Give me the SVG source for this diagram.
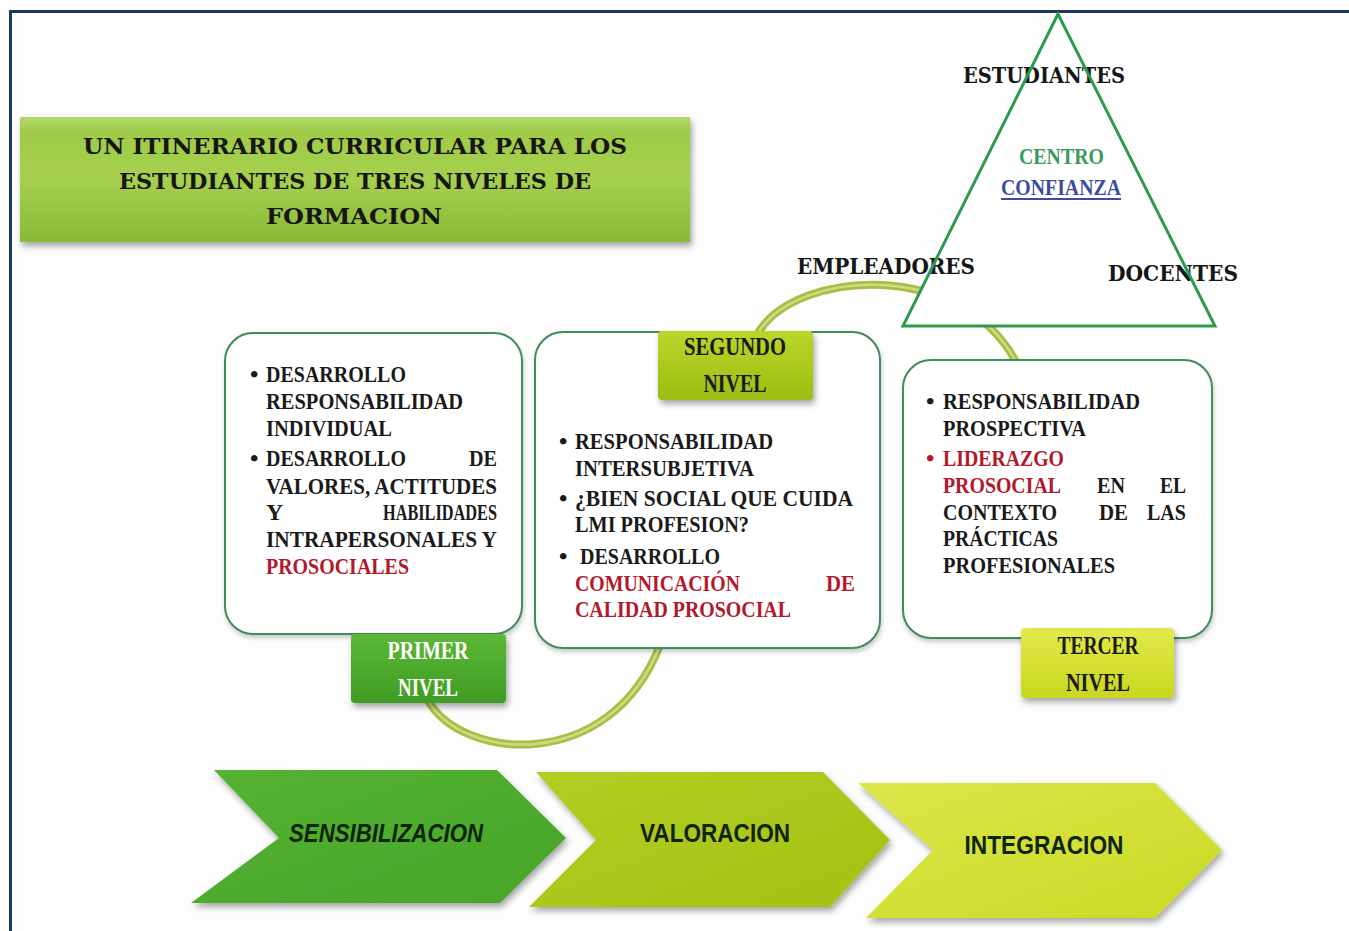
<svg xmlns="http://www.w3.org/2000/svg" width="1349" height="931" viewBox="0 0 1349 931">
<defs>
<style>
.t{font-family:"Liberation Serif","DejaVu Serif",serif;font-weight:bold;font-size:24px;fill:#1a1a1a}
.r{fill:#b3192c}
.lbl{font-family:"Liberation Serif","DejaVu Serif",serif;font-weight:bold;font-size:25px;fill:#1a1a1a;text-anchor:middle}
.slab{font-family:"DejaVu Serif","Liberation Serif",serif;font-weight:bold;font-size:23px;fill:#161616}
.chv{font-family:"Liberation Sans","Open Sans",sans-serif;font-weight:bold;font-size:26px;fill:#10240a;text-anchor:middle}
.box{fill:#ffffff;stroke:#3f8c5c;stroke-width:2}
</style>
<filter id="sh" x="-10%" y="-10%" width="130%" height="140%">
<feDropShadow dx="2" dy="4" stdDeviation="3" flood-color="#000" flood-opacity="0.35"/>
</filter>
<filter id="shl" x="-10%" y="-10%" width="130%" height="140%">
<feDropShadow dx="1" dy="3" stdDeviation="2" flood-color="#000" flood-opacity="0.2"/>
</filter>
<linearGradient id="gTitle" x1="0" y1="0" x2="0" y2="1">
<stop offset="0" stop-color="#b4d86a"/><stop offset="0.12" stop-color="#9fcb47"/><stop offset="0.5" stop-color="#a6d04f"/><stop offset="1" stop-color="#8ab838"/>
</linearGradient>
<linearGradient id="g1" x1="0" y1="0" x2="0" y2="1">
<stop offset="0" stop-color="#5cb836"/><stop offset="1" stop-color="#3f9c24"/>
</linearGradient>
<linearGradient id="g2" x1="0" y1="0" x2="0" y2="1">
<stop offset="0" stop-color="#bad62c"/><stop offset="1" stop-color="#9cbd12"/>
</linearGradient>
<linearGradient id="g3" x1="0" y1="0" x2="0" y2="1">
<stop offset="0" stop-color="#e2ea4a"/><stop offset="1" stop-color="#c9d71e"/>
</linearGradient>
<linearGradient id="c1" x1="0" y1="0" x2="1" y2="1">
<stop offset="0" stop-color="#56b232"/><stop offset="1" stop-color="#46a52a"/>
</linearGradient>
<linearGradient id="c2" x1="0" y1="0" x2="1" y2="1">
<stop offset="0" stop-color="#b3cd22"/><stop offset="1" stop-color="#a4c214"/>
</linearGradient>
<linearGradient id="c3" x1="0" y1="0" x2="1" y2="1">
<stop offset="0" stop-color="#dbe64a"/><stop offset="1" stop-color="#cbd924"/>
</linearGradient>
</defs>
<rect x="0" y="0" width="1349" height="931" fill="#fdfdfd"/>
<path d="M10.5 931 V11.5 H1349" fill="none" stroke="#1b3a56" stroke-width="3"/>

<g id="title" filter="url(#sh)">
<rect x="20" y="117" width="670" height="125" fill="url(#gTitle)"/>
</g>
<g id="title-text" style="white-space:pre">
<text class="slab" x="355" y="154" text-anchor="middle" font-size="27" textLength="544" lengthAdjust="spacingAndGlyphs">UN ITINERARIO  CURRICULAR  PARA LOS</text>
<text class="slab" x="355" y="189" text-anchor="middle" font-size="27" textLength="472" lengthAdjust="spacingAndGlyphs">ESTUDIANTES  DE TRES NIVELES DE</text>
<text class="slab" x="354" y="224" text-anchor="middle" font-size="27" textLength="176" lengthAdjust="spacingAndGlyphs">FORMACION</text>
</g>

<g id="connectors">
<path d="M428 700 C460 760 610 775 660 645 C700 540 720 400 760 330 C800 270 960 260 1015 360 C1040 410 1060 500 1060 520" fill="none" stroke="#a9be45" stroke-width="8" stroke-linecap="round"/>
<path d="M428 700 C460 760 610 775 660 645 C700 540 720 400 760 330 C800 270 960 260 1015 360 C1040 410 1060 500 1060 520" fill="none" stroke="#cddb86" stroke-width="2.5" stroke-linecap="round"/>
</g>

<g id="triangle">
<polygon points="1058,14 903,326 1215,326" fill="#ffffff"/>
<text class="slab" x="963" y="83" textLength="162" lengthAdjust="spacingAndGlyphs">ESTUDIANTES</text>
<text class="slab" x="797" y="274" textLength="178" lengthAdjust="spacingAndGlyphs">EMPLEADORES</text>
<text class="slab" x="1108" y="281" textLength="130" lengthAdjust="spacingAndGlyphs">DOCENTES</text>
<text class="t" x="1019" y="164" font-size="25" textLength="85" lengthAdjust="spacingAndGlyphs" style="fill:#3a9a5e">CENTRO</text>
<text class="t" x="1001" y="195" font-size="25" textLength="120" lengthAdjust="spacingAndGlyphs" style="fill:#3c4c9c">CONFIANZA</text>
<line x1="1001" y1="199" x2="1121" y2="199" stroke="#3c4c9c" stroke-width="1.8"/>
<polygon points="1058,14 903,326 1215,326" fill="none" stroke="#2e9a4e" stroke-width="3"/>
</g>

<g id="box1">
<rect class="box" x="225" y="333" width="297" height="301" rx="28" filter="url(#shl)"/>
<text class="t" x="250" y="382">•</text>
<text class="t" x="266" y="382" textLength="140" lengthAdjust="spacingAndGlyphs">DESARROLLO</text>
<text class="t" x="266" y="409" textLength="197" lengthAdjust="spacingAndGlyphs">RESPONSABILIDAD</text>
<text class="t" x="266" y="436" textLength="126" lengthAdjust="spacingAndGlyphs">INDIVIDUAL</text>
<text class="t" x="250" y="466">•</text>
<text class="t" x="266" y="466" textLength="140" lengthAdjust="spacingAndGlyphs">DESARROLLO</text>
<text class="t" x="469" y="466" textLength="28" lengthAdjust="spacingAndGlyphs">DE</text>
<text class="t" x="266" y="494" textLength="231" lengthAdjust="spacingAndGlyphs">VALORES,  ACTITUDES</text>
<text class="t" x="266" y="520">Y</text>
<text class="t" x="383" y="520" textLength="114" lengthAdjust="spacingAndGlyphs">HABILIDADES</text>
<text class="t" x="266" y="547" textLength="231" lengthAdjust="spacingAndGlyphs">INTRAPERSONALES Y</text>
<text class="t r" x="266" y="574" textLength="143" lengthAdjust="spacingAndGlyphs">PROSOCIALES</text>
</g>

<g id="box2">
<rect class="box" x="535" y="332" width="345" height="316" rx="28" filter="url(#shl)"/>
<text class="t" x="559" y="449">•</text>
<text class="t" x="575" y="449" textLength="198" lengthAdjust="spacingAndGlyphs">RESPONSABILIDAD</text>
<text class="t" x="575" y="476" textLength="179" lengthAdjust="spacingAndGlyphs">INTERSUBJETIVA</text>
<text class="t" x="559" y="506">•</text>
<text class="t" x="575" y="506" textLength="278" lengthAdjust="spacingAndGlyphs">¿BIEN SOCIAL QUE CUIDA</text>
<text class="t" x="575" y="532" textLength="174" lengthAdjust="spacingAndGlyphs">LMI PROFESION?</text>
<text class="t" x="559" y="564">•</text>
<text class="t" x="580" y="564" textLength="140" lengthAdjust="spacingAndGlyphs">DESARROLLO</text>
<text class="t r" x="575" y="591" textLength="165" lengthAdjust="spacingAndGlyphs">COMUNICACIÓN</text>
<text class="t r" x="826" y="591" textLength="29" lengthAdjust="spacingAndGlyphs">DE</text>
<text class="t r" x="575" y="617" textLength="216" lengthAdjust="spacingAndGlyphs">CALIDAD PROSOCIAL</text>
</g>

<g id="box3">
<rect class="box" x="903" y="360" width="309" height="278" rx="28" filter="url(#shl)"/>
<text class="t" x="926" y="409">•</text>
<text class="t" x="943" y="409" textLength="197" lengthAdjust="spacingAndGlyphs">RESPONSABILIDAD</text>
<text class="t" x="943" y="436" textLength="143" lengthAdjust="spacingAndGlyphs">PROSPECTIVA</text>
<text class="t r" x="926" y="466">•</text>
<text class="t r" x="943" y="466" textLength="121" lengthAdjust="spacingAndGlyphs">LIDERAZGO</text>
<text class="t r" x="943" y="493" textLength="118" lengthAdjust="spacingAndGlyphs">PROSOCIAL</text>
<text class="t" x="1097" y="493" textLength="28" lengthAdjust="spacingAndGlyphs">EN</text>
<text class="t" x="1160" y="493" textLength="26" lengthAdjust="spacingAndGlyphs">EL</text>
<text class="t" x="943" y="520" textLength="114" lengthAdjust="spacingAndGlyphs">CONTEXTO</text>
<text class="t" x="1099" y="520" textLength="29" lengthAdjust="spacingAndGlyphs">DE</text>
<text class="t" x="1147" y="520" textLength="39" lengthAdjust="spacingAndGlyphs">LAS</text>
<text class="t" x="943" y="546" textLength="115" lengthAdjust="spacingAndGlyphs">PRÁCTICAS</text>
<text class="t" x="943" y="573" textLength="172" lengthAdjust="spacingAndGlyphs">PROFESIONALES</text>
</g>

<g id="segundo-nivel">
<rect x="658" y="331" width="155" height="69" rx="4" fill="url(#g2)" filter="url(#sh)"/>
<text class="lbl" x="735" y="355" textLength="102" lengthAdjust="spacingAndGlyphs">SEGUNDO</text>
<text class="lbl" x="735" y="392" textLength="63" lengthAdjust="spacingAndGlyphs">NIVEL</text>
</g>
<g id="primer-nivel">
<rect x="351" y="634" width="155" height="69" rx="4" fill="url(#g1)" filter="url(#sh)"/>
<text class="lbl" x="428" y="659" textLength="81" lengthAdjust="spacingAndGlyphs" style="fill:#ffffff">PRIMER</text>
<text class="lbl" x="428" y="696" textLength="60" lengthAdjust="spacingAndGlyphs" style="fill:#ffffff">NIVEL</text>
</g>
<g id="tercer-nivel">
<rect x="1021" y="628" width="153" height="70" rx="4" fill="url(#g3)" filter="url(#sh)"/>
<text class="lbl" x="1098" y="654" textLength="81" lengthAdjust="spacingAndGlyphs">TERCER</text>
<text class="lbl" x="1098" y="691" textLength="64" lengthAdjust="spacingAndGlyphs">NIVEL</text>
</g>

<g id="sensibilizacion">
<polygon points="214,770 497,770 566,838 500,903 191,903 279,838" fill="url(#c1)" filter="url(#sh)"/>
<text class="chv" x="386" y="842" font-style="italic" textLength="194" lengthAdjust="spacingAndGlyphs">SENSIBILIZACION</text>
</g>
<g id="valoracion">
<polygon points="536,772 823,772 890,840 830,907 529,907 596,840" fill="url(#c2)" filter="url(#sh)"/>
<text class="chv" x="715" y="842" textLength="150" lengthAdjust="spacingAndGlyphs">VALORACION</text>
</g>
<g id="integracion">
<polygon points="858,783 1155,783 1222,850 1155,918 866,918 933,850" fill="url(#c3)" filter="url(#sh)"/>
<text class="chv" x="1044" y="854" textLength="159" lengthAdjust="spacingAndGlyphs">INTEGRACION</text>
</g>
</svg>
